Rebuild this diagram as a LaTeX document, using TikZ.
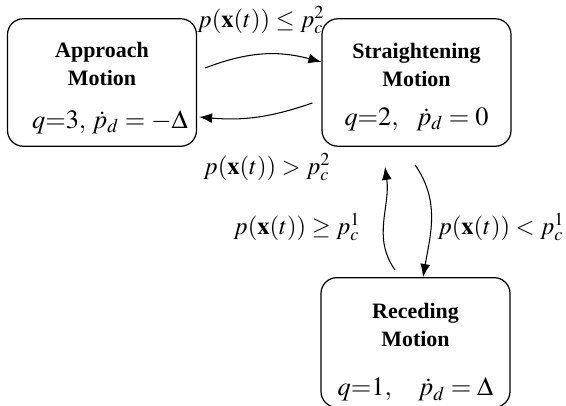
\documentclass[tikz,border=0pt]{standalone}
\usepackage{amsmath,amssymb}
\usepackage{mathptmx}
\usepackage{fontspec}
\setmainfont{Liberation Serif}
\usepackage{tikz}
\usetikzlibrary{arrows.meta, positioning}

\begin{document}
\begin{tikzpicture}[
    statebox/.style={rectangle, rounded corners=9pt, draw=black, line width=0.7pt, minimum width=3.78cm, minimum height=2.55cm, align=center, font=\fontsize{12.5}{16}\selectfont\bfseries},
    guard/.style={font=\fontsize{14}{16}\selectfont, inner sep=0pt},
    trans/.style={-{Latex[length=2.6mm, width=2mm]}, line width=0.6pt, black},
]
\useasboundingbox (0,0) rectangle (11.32,8.12);

\node[statebox] (approach) at (2.04,6.47)
    {\rule{0pt}{15pt}Approach\\Motion\\[8pt]\mdseries\fontsize{15}{18}\selectfont\hspace{0.6em}$q{=}3,\, \dot{p}_d = {-}\Delta$};
\node[statebox] (straight) at (8.33,6.47)
    {\rule{0pt}{14pt}Straightening\\Motion\\[6pt]\mdseries\fontsize{15}{18}\selectfont $q{=}2,\;\;\, \dot{p}_d = 0$};
\node[statebox, minimum height=2.42cm] (receding) at (8.31,1.27)
    {\rule{0pt}{20pt}Receding\\Motion\\[12pt]\mdseries\fontsize{15}{18}\selectfont $q{=}1,\;\;\;\; \dot{p}_d = \Delta$};

\node[guard] (leq2) at (5.22,7.72) {$p(\mathbf{x}(t)) \leq p_c^2$};
\node[guard] (gt2)  at (5.34,4.78) {$p(\mathbf{x}(t)) > p_c^2$};
\node[guard] (geq1) at (5.94,3.58) {$p(\mathbf{x}(t)) \geq p_c^1$};
\node[guard] (lt1)  at (10.02,3.58) {$p(\mathbf{x}(t)) < p_c^1$};

\draw[trans] ([shift={(0.16,0.29)}]approach.east) to[bend left=18] ([yshift=0.41cm]straight.west);
\draw[trans] ([shift={(-0.18,-0.41)}]straight.west) to[bend left=12] ([shift={(0.04,-0.69)}]approach.east);
\draw[trans] ([shift={(-0.41,0.14)}]receding.north) to[out=125, in=-82] ([shift={(-0.63,-0.40)}]straight.south);
\draw[trans] ([shift={(-0.03,-0.36)}]straight.south) to[out=-55, in=80] ([xshift=0.15cm]receding.north);

\end{tikzpicture}
\end{document}
